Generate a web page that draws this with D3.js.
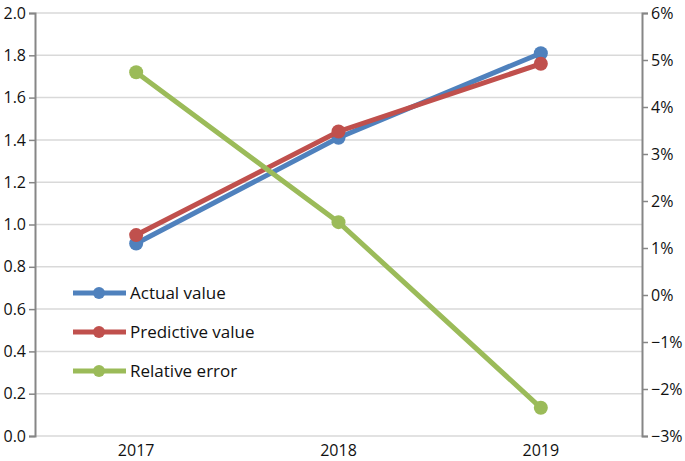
<!DOCTYPE html>
<head>
  <meta charset="utf-8">
  <style>
    body { margin: 0; background: #fff; }
    text { font-family: "Open Sans", sans-serif; fill: #111; }
  </style>
  <script src="https://cdnjs.cloudflare.com/ajax/libs/d3/7.8.5/d3.min.js"></script>
</head>
<body>
  <script>
    var years = ["2017", "2018", "2019"];
    var actualValue = [0.91, 1.41, 1.81];
    var predictiveValue = [0.95, 1.44, 1.76];
    var relativeError = [4.74, 1.55, -2.4];   // percent
    var leftTicks = [0, 0.2, 0.4, 0.6, 0.8, 1.0, 1.2, 1.4, 1.6, 1.8, 2.0];
    var rightTicks = [-3, -2, -1, 0, 1, 2, 3, 4, 5, 6];

    var w = 685, h = 461;
    var mLeft = 35, mRight = 642, mTop = 13, mBottom = 436;

    var svg = d3.select("body").append("svg")
      .attr("width", w).attr("height", h);

    var x = d3.scaleBand().domain(years).range([mLeft, mRight]);
    var yL = d3.scaleLinear().domain([0, 2]).range([mBottom, mTop]);
    var yR = d3.scaleLinear().domain([-3, 6]).range([mBottom, mTop]);

    // gridlines
    svg.append("g").selectAll("line")
      .data(leftTicks)
      .enter().append("line")
      .attr("x1", mLeft).attr("x2", mRight)
      .attr("y1", function(d) { return yL(d); })
      .attr("y2", function(d) { return yL(d); })
      .attr("stroke", "#d9d9d9")
      .attr("stroke-width", 1.5);

    // left axis
    var gL = svg.append("g")
      .attr("transform", "translate(" + mLeft + ",0)")
      .call(d3.axisLeft(yL).tickValues(leftTicks).tickFormat(d3.format(".1f")).tickSize(6).tickPadding(3));

    // right axis
    var gR = svg.append("g")
      .attr("transform", "translate(" + mRight + ",0)")
      .call(d3.axisRight(yR).tickValues(rightTicks)
        .tickFormat(function(d) { return (d < 0 ? "\u2212" + Math.abs(d) : d) + "%"; })
        .tickSize(6).tickPadding(3));

    [gL, gR].forEach(function(g) {
      g.select(".domain").attr("stroke", "#868686").attr("stroke-width", 2);
      g.selectAll(".tick line").attr("stroke", "#868686").attr("stroke-width", 1.5);
      g.selectAll(".tick text").attr("font-size", "16px").attr("fill", "#111")
        .style("font-family", "'Open Sans', sans-serif");
    });

    // x labels
    svg.append("g").selectAll("text")
      .data(years)
      .enter().append("text")
      .attr("x", function(d) { return x(d) + x.bandwidth() / 2; })
      .attr("y", 456)
      .attr("text-anchor", "middle")
      .attr("font-size", "16px")
      .text(function(d) { return d; });

    var series = [
      { name: "Actual value", values: actualValue, color: "#4f81bd", y: yL },
      { name: "Predictive value", values: predictiveValue, color: "#c0504d", y: yL },
      { name: "Relative error", values: relativeError, color: "#9bbb59", y: yR }
    ];

    series.forEach(function(s) {
      var line = d3.line()
        .x(function(d, i) { return x(years[i]) + x.bandwidth() / 2; })
        .y(function(d) { return s.y(d); });
      var g = svg.append("g");
      g.append("path")
        .datum(s.values)
        .attr("d", line)
        .attr("fill", "none")
        .attr("stroke", s.color)
        .attr("stroke-width", 5);
      g.selectAll("circle")
        .data(s.values)
        .enter().append("circle")
        .attr("cx", function(d, i) { return x(years[i]) + x.bandwidth() / 2; })
        .attr("cy", function(d) { return s.y(d); })
        .attr("r", 7)
        .attr("fill", s.color);
    });

    // legend
    var legend = svg.append("g").selectAll("g")
      .data(series)
      .enter().append("g")
      .attr("transform", function(d, i) { return "translate(73," + (293 + i * 39) + ")"; });
    legend.append("line")
      .attr("x1", 0).attr("x2", 53)
      .attr("stroke", function(d) { return d.color; })
      .attr("stroke-width", 5);
    legend.append("circle")
      .attr("cx", 26).attr("r", 6)
      .attr("fill", function(d) { return d.color; });
    legend.append("text")
      .attr("x", 57).attr("y", 6)
      .attr("font-size", "17px")
      .text(function(d) { return d.name; });
  </script>
</body>
